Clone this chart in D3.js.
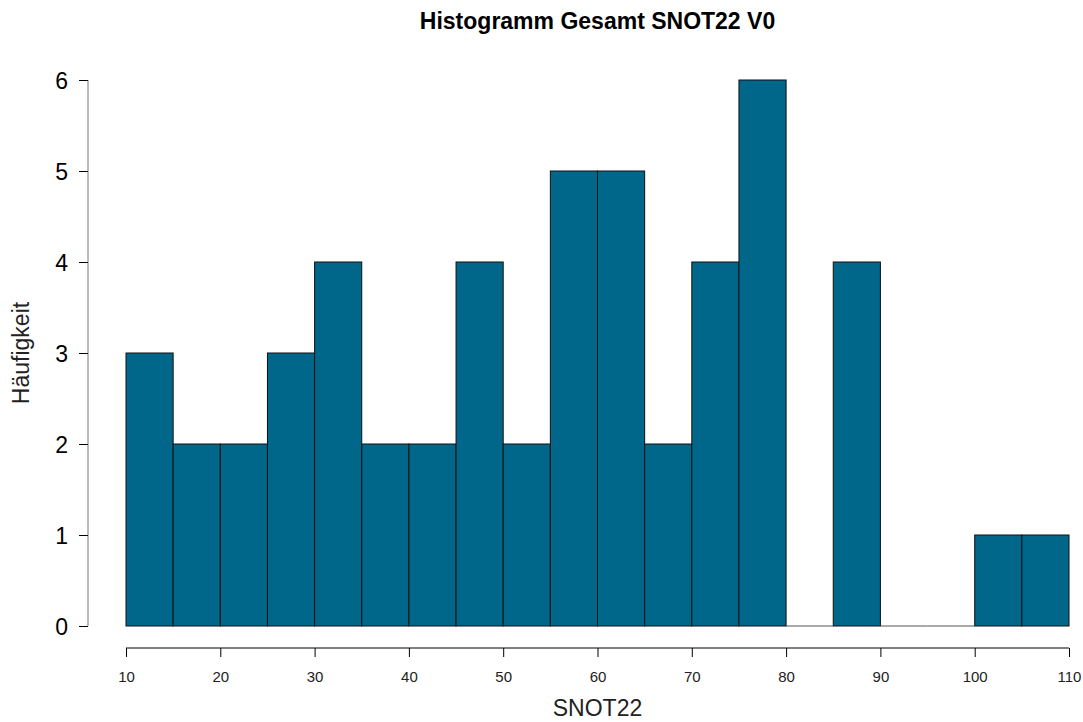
<!DOCTYPE html>
<html><head><meta charset="utf-8">
<script src="https://cdn.jsdelivr.net/npm/d3@7"></script>
<style>body{margin:0;background:#fff;} text{font-family:"Liberation Sans",Arial,sans-serif;}</style>
</head><body><svg id="c" width="1083" height="722"></svg>
<script>
const binStarts = [10,15,20,25,30,35,40,45,50,55,60,65,70,75,80,85,90,95,100,105];
const binWidth = 5;
const counts = [3,2,2,3,4,2,2,4,2,5,5,2,4,6,0,4,0,0,1,1];
const xTicks = [10,20,30,40,50,60,70,80,90,100,110];
const yTicks = [0,1,2,3,4,5,6];

const svg = d3.select("#c");
const x = d3.scaleLinear().domain([10,110]).range([126,1069]);
const y = d3.scaleLinear().domain([0,6]).range([626,80]);

svg.selectAll("rect.bar").data(binStarts.map((s,i)=>({s,c:counts[i]}))).enter()
  .append("rect").attr("class","bar")
  .attr("x",d=>x(d.s)).attr("width",d=>x(d.s+binWidth)-x(d.s))
  .attr("y",d=>y(d.c)).attr("height",d=>y(0)-y(d.c))
  .attr("fill","#00668a").attr("stroke","#111").attr("stroke-width",1);

svg.selectAll("line.zero").data(binStarts.map((s,i)=>({s,c:counts[i]})).filter(d=>d.c===0)).enter()
  .append("line").attr("x1",d=>x(d.s)).attr("x2",d=>x(d.s+binWidth))
  .attr("y1",y(0)).attr("y2",y(0)).attr("stroke","#555").attr("stroke-width",1);

// y axis
const yAxis = d3.axisLeft(y).tickValues(yTicks).tickSize(9).tickPadding(11).tickFormat(d3.format("d"));
const ga = svg.append("g").attr("transform","translate(88,0)").call(yAxis);
ga.select(".domain").attr("stroke","#777").attr("d",`M0,${y(0)}V${y(6)}`);
ga.selectAll(".tick line").attr("stroke","#000");
ga.selectAll(".tick text").attr("font-size",23).attr("fill","#000").attr("dy","0.36em");

// x axis
const xAxis = d3.axisBottom(x).tickValues(xTicks).tickSize(9).tickPadding(14);
const gx = svg.append("g").attr("transform","translate(0,648)").call(xAxis);
gx.select(".domain").attr("stroke","#000").attr("d",`M${x(10)},0H${x(110)}`);
gx.selectAll(".tick line").attr("stroke","#000");
gx.selectAll(".tick text").attr("font-size",15).attr("fill","#222");

svg.append("text").attr("x",(x(10)+x(110))/2).attr("y",29).attr("text-anchor","middle")
  .attr("font-size",23).attr("font-weight","bold").text("Histogramm Gesamt SNOT22 V0");
svg.append("text").attr("x",(x(10)+x(110))/2).attr("y",716).attr("text-anchor","middle")
  .attr("font-size",23).attr("fill","#222").text("SNOT22");
svg.append("text").attr("transform",`translate(29,${(y(0)+y(6))/2}) rotate(-90)`).attr("text-anchor","middle")
  .attr("font-size",23).attr("fill","#222").text("Häufigkeit");
</script></body></html>
